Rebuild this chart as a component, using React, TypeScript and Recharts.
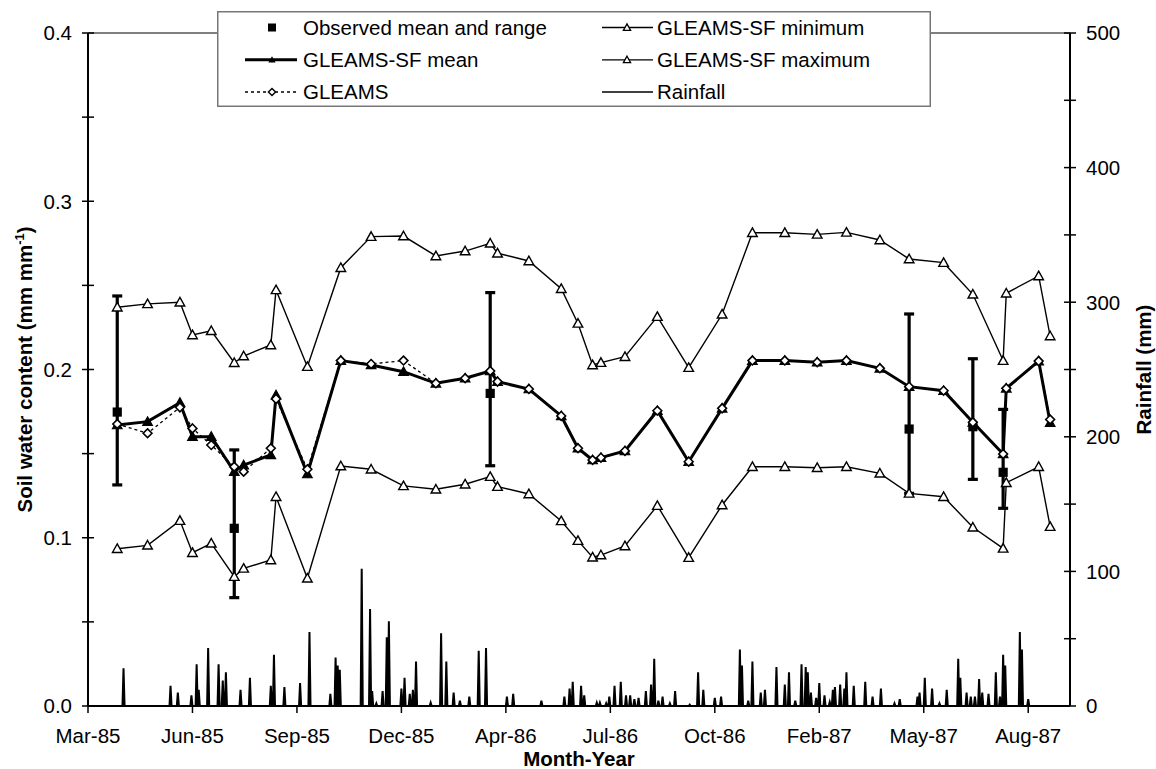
import React from 'react';
import {
  ComposedChart,
  Line,
  Scatter,
  XAxis,
  YAxis,
  ErrorBar,
  ReferenceLine,
  Legend,
  Label,
} from 'recharts';

// ---- axis ticks (x is days from 4 Mar 1985, one tick every 100 days) ----
const dayTicks = [0, 100, 200, 300, 400, 500, 600, 700, 800, 900];
const monthLabels = ['Mar-85', 'Jun-85', 'Sep-85', 'Dec-85', 'Apr-86', 'Jul-86', 'Oct-86', 'Feb-87', 'May-87', 'Aug-87'];
const soilTicks = [0, 0.05, 0.1, 0.15, 0.2, 0.25, 0.3, 0.35, 0.4];
const rainTicks = [0, 50, 100, 150, 200, 250, 300, 350, 400, 450, 500];

// ---- simulated soil water content (mm mm-1) at sampling days ----
const sampleDays = [
  28, 57, 88, 100, 118, 140, 149, 175, 180, 210, 242, 271, 302,
  333, 361, 385, 392, 422, 453, 469, 483, 491, 514, 545, 575, 607,
  636, 667, 698, 726, 758, 786, 819, 847, 876, 879, 910, 921,
];
const sfMaximum = [
  0.237, 0.239, 0.24, 0.2205, 0.223, 0.204, 0.208, 0.2146, 0.2473, 0.2017, 0.2605, 0.279, 0.2793,
  0.2675, 0.2704, 0.275, 0.2691, 0.2645, 0.248, 0.2274, 0.2027, 0.2041, 0.2076, 0.2314, 0.2011, 0.2328,
  0.2813, 0.2813, 0.2803, 0.2815, 0.277, 0.2657, 0.2635, 0.2447, 0.2053, 0.2453, 0.2556, 0.2199,
];
const sfMinimum = [
  0.0935, 0.0955, 0.1102, 0.0911, 0.0967, 0.0769, 0.0818, 0.0868, 0.1244, 0.0759, 0.1426, 0.1407, 0.1308,
  0.1288, 0.1318, 0.1363, 0.1304, 0.126, 0.11, 0.0983, 0.0884, 0.0897, 0.0951, 0.1191, 0.0882, 0.1195,
  0.1422, 0.1422, 0.1416, 0.1422, 0.1383, 0.1264, 0.1244, 0.1062, 0.0937, 0.1327, 0.1422, 0.1066,
];
const sfMean = [
  0.167, 0.169, 0.1803, 0.1601, 0.1601, 0.1393, 0.1432, 0.1492, 0.1848, 0.1379, 0.2053, 0.2027, 0.1987,
  0.1918, 0.1948, 0.1991, 0.1928, 0.1884, 0.1724, 0.1532, 0.1462, 0.1476, 0.1516, 0.1755, 0.1452, 0.1769,
  0.2053, 0.2053, 0.2043, 0.2053, 0.2007, 0.1898, 0.1874, 0.1686, 0.1498, 0.1888, 0.205, 0.1684,
];
const gleams = [
  0.1676, 0.1621, 0.1775, 0.165, 0.1551, 0.1422, 0.1393, 0.1532, 0.1825, 0.1407, 0.2053, 0.2033, 0.2053,
  0.1918, 0.1948, 0.1991, 0.1928, 0.1884, 0.1724, 0.1532, 0.1462, 0.1476, 0.1516, 0.1755, 0.1452, 0.1769,
  0.2053, 0.2053, 0.2043, 0.2053, 0.2007, 0.1898, 0.1874, 0.1686, 0.1498, 0.1888, 0.205, 0.1703,
];

// ---- observed soil water content: mean and range ----
const obsDays = [28, 140, 385, 786, 847, 876];
const obsMean = [0.1747, 0.1056, 0.1858, 0.1646, 0.166, 0.1389];
const obsLow = [0.1314, 0.0644, 0.1428, 0.1264, 0.1347, 0.1175];
const obsHigh = [0.2437, 0.1522, 0.2457, 0.233, 0.2064, 0.1763];

// ---- daily rainfall (mm) on wet days ----
const rainDays = [
  34, 79, 86, 99, 104, 106, 115, 125, 129, 132, 146, 155, 175, 178, 188, 203, 212, 232, 237, 239, 241,
  262, 270, 272, 276, 282, 286, 288, 300, 303, 308, 311, 314, 328, 338, 343, 350, 356, 365, 374, 381,
  401, 407, 434, 456, 461, 464, 472, 475, 487, 490, 496, 499, 504, 510, 515, 519, 523, 527, 534, 539,
  542, 546, 550, 557, 562, 576, 584, 589, 600, 606, 624, 626, 632, 636, 644, 648, 659, 667, 671, 677,
  683, 687, 689, 692, 697, 700, 705, 710, 713, 715, 720, 724, 726, 733, 744, 751, 759, 772, 777, 794,
  796, 801, 808, 815, 822, 833, 835, 841, 845, 849, 853, 856, 862, 869, 873, 876, 878, 892, 894, 900,
];
const rainMm = [
  28, 15, 10, 8, 31, 12, 43, 31, 19, 25, 12, 21, 15, 38, 14, 17, 55, 9, 36, 30, 27,
  102, 72, 11, 2, 11, 51, 63, 13, 21, 9, 12, 33, 2.5, 54, 33, 10, 4, 7, 41, 43,
  7, 9, 4, 7, 13, 18, 15, 8, 2.5, 2.5, 2, 7, 15, 18, 8, 8, 5, 6, 11, 16,
  35, 4, 7, 2, 11, 1, 25, 12, 6, 7, 42, 30, 4, 33, 10, 12, 29, 16, 25, 4,
  31, 29, 25, 10, 6, 17, 8, 3, 12, 14, 16, 13, 25, 15, 18, 7, 13, 2, 5, 7,
  10, 21, 13, 2, 12, 35, 21, 10, 7, 7, 20, 10, 9, 25, 7, 38, 30, 55, 42, 5,
];
const rainRecordEnd = 905;

// ---- tables for the library ----
const sfData = sampleDays.map((day, i) => ({
  day,
  max: sfMaximum[i],
  min: sfMinimum[i],
  mean: sfMean[i],
  gleams: gleams[i],
}));
const obsData = obsDays.map((day, i) => ({
  day,
  value: obsMean[i],
  range: [obsMean[i] - obsLow[i], obsHigh[i] - obsMean[i]],
}));
const rainByDay = new Map<number, number>();
rainDays.forEach((d, i) => rainByDay.set(d, rainMm[i]));
const rainData = Array.from({ length: rainRecordEnd + 1 }, (_, d) => ({ day: d, rain: rainByDay.get(d) ?? 0 }));

const FONT = '"Liberation Sans", Arial, Helvetica, sans-serif';
const FS = 20.5;

// ---- markers ----
const triPath = (cx: number, cy: number, hw: number) =>
  `M${cx},${cy - hw} L${cx + hw},${cy + hw * 0.78} L${cx - hw},${cy + hw * 0.78} Z`;

const openTriangle = (p: any) => {
  if (p.cx == null || p.cy == null) return <g key={`ot-${p.index}`} />;
  return (
    <path key={`ot-${p.dataKey}-${p.index}`} d={triPath(p.cx, p.cy, 4.8)} fill="#fff" stroke="#000" strokeWidth={1.4} />
  );
};
const filledTriangle = (p: any) => {
  if (p.cx == null || p.cy == null) return <g key={`ft-${p.index}`} />;
  return <path key={`ft-${p.index}`} d={triPath(p.cx, p.cy, 4.8)} fill="#000" stroke="#000" strokeWidth={1.2} />;
};
const diamondPath = (cx: number, cy: number, r: number) =>
  `M${cx},${cy - r} L${cx + r},${cy} L${cx},${cy + r} L${cx - r},${cy} Z`;
const openDiamond = (p: any) => {
  if (p.cx == null || p.cy == null) return <g key={`od-${p.index}`} />;
  return <path key={`od-${p.index}`} d={diamondPath(p.cx, p.cy, 4.4)} fill="#fff" stroke="#000" strokeWidth={1.6} />;
};
const squareShape = (p: any) => (
  <rect x={p.cx - 4.6} y={p.cy - 4.6} width={9.2} height={9.2} fill="#000" />
);

// ---- axis ticks ----
const XTick = (p: any) => {
  const i = dayTicks.indexOf(p.payload.value);
  return (
    <g>
      <line x1={p.x} y1={p.y} x2={p.x} y2={p.y + 7} stroke="#000" strokeWidth={1.5} />
      <text x={p.x} y={p.y + 37} textAnchor="middle" fontFamily={FONT} fontSize={FS} fill="#000">
        {monthLabels[i]}
      </text>
    </g>
  );
};
const LeftTick = (p: any) => {
  const v = p.payload.value;
  const major = Math.abs(v * 10 - Math.round(v * 10)) < 1e-6;
  return (
    <g>
      <line x1={p.x - 6} y1={p.y} x2={p.x + 6} y2={p.y} stroke="#000" strokeWidth={1.5} />
      {major && (
        <text x={p.x - 16} y={p.y + 7.3} textAnchor="end" fontFamily={FONT} fontSize={FS} fill="#000">
          {v.toFixed(1)}
        </text>
      )}
    </g>
  );
};
const RightTick = (p: any) => {
  const v = p.payload.value;
  const major = v % 100 === 0;
  return (
    <g>
      <line x1={p.x - 6} y1={p.y} x2={p.x + 6} y2={p.y} stroke="#000" strokeWidth={1.5} />
      {major && (
        <text x={p.x + 16} y={p.y + 7.3} textAnchor="start" fontFamily={FONT} fontSize={FS} fill="#000">
          {v}
        </text>
      )}
    </g>
  );
};

// ---- legend ----
const LegendBox = () => {
  const rows = [16.5, 48.8, 81];
  const c1 = { x1: 28, x2: 80, mid: 55, text: 86 };
  const c2 = { x1: 385, x2: 436, mid: 410, text: 440 };
  const txt = (x: number, y: number, s: string) => (
    <text x={x} y={y + 7.3} fontFamily={FONT} fontSize={FS} fill="#000">
      {s}
    </text>
  );
  return (
    <svg width={714} height={96} style={{ display: 'block' }}>
      <rect x={0.75} y={0.75} width={712.5} height={94.5} fill="#fff" stroke="#777" strokeWidth={1.5} />
      {/* Observed */}
      <rect x={c1.mid - 4} y={rows[0] - 4} width={8} height={8} fill="#000" />
      {txt(c1.text, rows[0], 'Observed mean and range')}
      {/* GLEAMS-SF mean */}
      <line x1={c1.x1} y1={rows[1]} x2={c1.x2} y2={rows[1]} stroke="#000" strokeWidth={3} />
      <path d={triPath(c1.mid, rows[1], 3.6)} fill="#000" />
      {txt(c1.text, rows[1], 'GLEAMS-SF mean')}
      {/* GLEAMS */}
      <line x1={c1.x1} y1={rows[2]} x2={c1.x2} y2={rows[2]} stroke="#000" strokeWidth={1.3} strokeDasharray="3 3" />
      <path d={diamondPath(c1.mid, rows[2], 3.6)} fill="#fff" stroke="#000" strokeWidth={1.4} />
      {txt(c1.text, rows[2], 'GLEAMS')}
      {/* min / max */}
      {[0, 1].map((r) => (
        <g key={r}>
          <line x1={c2.x1} y1={rows[r]} x2={c2.x2} y2={rows[r]} stroke="#000" strokeWidth={1.3} />
          <path d={triPath(c2.mid, rows[r], 3.6)} fill="#fff" stroke="#000" strokeWidth={1.3} />
        </g>
      ))}
      {txt(c2.text, rows[0], 'GLEAMS-SF minimum')}
      {txt(c2.text, rows[1], 'GLEAMS-SF maximum')}
      <line x1={c2.x1} y1={rows[2]} x2={c2.x2} y2={rows[2]} stroke="#000" strokeWidth={1.3} />
      {txt(c2.text, rows[2], 'Rainfall')}
    </svg>
  );
};

export default function App() {
  return (
    <div style={{ position: 'absolute', left: 0, top: 0, width: 1156, height: 769, background: '#fff' }}>
      <ComposedChart width={1156} height={769} margin={{ top: 33, right: 0, bottom: 0, left: 0 }}>
        <XAxis
          type="number"
          dataKey="day"
          domain={[0, 940]}
          ticks={dayTicks}
          interval={0}
          allowDataOverflow
          height={63}
          tickSize={0}
          tickMargin={0}
          tickLine={false}
          tick={<XTick />}
          axisLine={{ stroke: '#000', strokeWidth: 2 }}
        >
          <Label
            content={(props: any) => {
              const vb = props.viewBox;
              return (
                <text
                  x={vb.x + vb.width / 2}
                  y={vb.y + 60}
                  textAnchor="middle"
                  fontFamily={FONT}
                  fontSize={FS}
                  fontWeight="bold"
                  fill="#000"
                >
                  Month-Year
                </text>
              );
            }}
          />
        </XAxis>
        <YAxis
          yAxisId="left"
          orientation="left"
          width={88}
          domain={[0, 0.4]}
          ticks={soilTicks}
          interval={0}
          allowDataOverflow
          tickSize={0}
          tickMargin={0}
          tickLine={false}
          tick={<LeftTick />}
          axisLine={{ stroke: '#000', strokeWidth: 2 }}
        >
          <Label
            content={(props: any) => {
              const vb = props.viewBox;
              const cx = vb.x + 32;
              const cy = vb.y + vb.height / 2;
              return (
                <text
                  x={cx}
                  y={cy}
                  transform={`rotate(-90 ${cx} ${cy})`}
                  textAnchor="middle"
                  fontFamily={FONT}
                  fontSize={FS}
                  fontWeight="bold"
                  fill="#000"
                >
                  Soil water content (mm mm
                  <tspan fontSize={13} dy={-8}>-1</tspan>
                  <tspan dy={8}>)</tspan>
                </text>
              );
            }}
          />
        </YAxis>
        <YAxis
          yAxisId="right"
          orientation="right"
          width={86}
          domain={[0, 500]}
          ticks={rainTicks}
          interval={0}
          allowDataOverflow
          tickSize={0}
          tickMargin={0}
          tickLine={false}
          tick={<RightTick />}
          axisLine={{ stroke: '#000', strokeWidth: 2 }}
        >
          <Label
            content={(props: any) => {
              const vb = props.viewBox;
              const cx = vb.x + 81;
              const cy = vb.y + vb.height / 2;
              return (
                <text
                  x={cx}
                  y={cy}
                  transform={`rotate(-90 ${cx} ${cy})`}
                  textAnchor="middle"
                  fontFamily={FONT}
                  fontSize={FS}
                  fontWeight="bold"
                  fill="#000"
                >
                  Rainfall (mm)
                </text>
              );
            }}
          />
        </YAxis>

        <ReferenceLine yAxisId="left" y={0.4} stroke="#555" strokeWidth={1.3} ifOverflow="visible" />

        <Line
          yAxisId="right"
          data={rainData}
          dataKey="rain"
          type="linear"
          stroke="#000"
          strokeWidth={2}
          dot={false}
          activeDot={false}
          isAnimationActive={false}
        />

        <Scatter
          yAxisId="left"
          data={obsData}
          dataKey="value"
          shape={squareShape}
          isAnimationActive={false}
        >
          <ErrorBar dataKey="range" direction="y" width={5} stroke="#000" strokeWidth={3.2} />
        </Scatter>

        <Line
          yAxisId="left"
          data={sfData}
          dataKey="min"
          type="linear"
          stroke="#000"
          strokeWidth={1.4}
          dot={openTriangle}
          activeDot={false}
          isAnimationActive={false}
        />
        <Line
          yAxisId="left"
          data={sfData}
          dataKey="max"
          type="linear"
          stroke="#000"
          strokeWidth={1.4}
          dot={openTriangle}
          activeDot={false}
          isAnimationActive={false}
        />
        <Line
          yAxisId="left"
          data={sfData}
          dataKey="mean"
          type="linear"
          stroke="#000"
          strokeWidth={3}
          dot={filledTriangle}
          activeDot={false}
          isAnimationActive={false}
        />
        <Line
          yAxisId="left"
          data={sfData}
          dataKey="gleams"
          type="linear"
          stroke="#000"
          strokeWidth={1.3}
          strokeDasharray="3 3"
          dot={openDiamond}
          activeDot={false}
          isAnimationActive={false}
        />

        <Legend
          layout="horizontal"
          verticalAlign="middle"
          align="center"
          wrapperStyle={{ position: 'absolute', left: 217, top: 11, width: 714, height: 96, margin: 0 }}
          content={() => <LegendBox />}
        />
      </ComposedChart>
    </div>
  );
}
